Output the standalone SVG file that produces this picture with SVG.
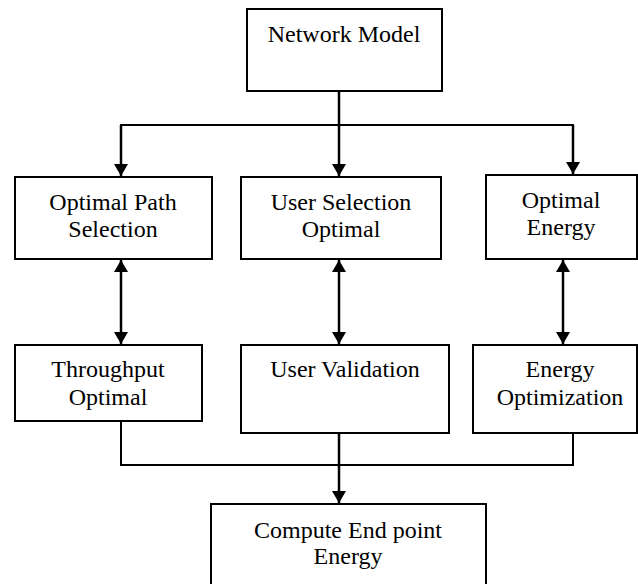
<svg xmlns="http://www.w3.org/2000/svg" width="638" height="584" viewBox="0 0 638 584">
<defs>
<style>
.box{fill:#fff;stroke:#000;stroke-width:2}
.t{font-family:"Liberation Serif","Times New Roman",serif;font-size:24px;fill:#000;text-anchor:middle}
.c{fill:none;stroke:#000;stroke-width:2.5}
.l{fill:none;stroke:#000;stroke-width:2}
</style>
<marker id="ah" viewBox="0 0 12 14" refX="12" refY="7" markerWidth="12" markerHeight="14" markerUnits="userSpaceOnUse" orient="auto-start-reverse">
<path d="M0,0 L12,7 L0,14 Z" fill="#000"/>
</marker>
</defs>
<rect width="638" height="584" fill="#fff"/>
<g id="connectors">
<line class="c" x1="339" y1="91" x2="339" y2="176" marker-end="url(#ah)"/>
<polyline class="l" points="121,162 121,125 573,125 573,162"/>
<line class="c" x1="121" y1="125" x2="121" y2="176" marker-end="url(#ah)"/>
<line class="c" x1="573" y1="125" x2="573" y2="174" marker-end="url(#ah)"/>
<line class="c" x1="121" y1="260" x2="121" y2="344" marker-start="url(#ah)" marker-end="url(#ah)"/>
<line class="c" x1="339" y1="260" x2="339" y2="344" marker-start="url(#ah)" marker-end="url(#ah)"/>
<line class="c" x1="563" y1="260" x2="563" y2="344" marker-start="url(#ah)" marker-end="url(#ah)"/>
<polyline class="l" points="121,421 121,465 573,465 573,433"/>
<line class="c" x1="339" y1="433" x2="339" y2="503" marker-end="url(#ah)"/>
</g>
<g id="network-model">
<rect class="box" x="247" y="9" width="195" height="82"/>
<text class="t" x="344" y="42">Network Model</text>
</g>
<g id="optimal-path-selection">
<rect class="box" x="15" y="177" width="197" height="82"/>
<text class="t" x="113" y="210">Optimal Path</text>
<text class="t" x="113" y="237">Selection</text>
</g>
<g id="user-selection-optimal">
<rect class="box" x="241" y="177" width="200" height="82"/>
<text class="t" x="341" y="210">User Selection</text>
<text class="t" x="341" y="237">Optimal</text>
</g>
<g id="optimal-energy">
<rect class="box" x="486" y="175" width="151" height="84"/>
<text class="t" x="561" y="208">Optimal</text>
<text class="t" x="561" y="235">Energy</text>
</g>
<g id="throughput-optimal">
<rect class="box" x="15" y="345" width="187" height="76"/>
<text class="t" x="108" y="377">Throughput</text>
<text class="t" x="108" y="405">Optimal</text>
</g>
<g id="user-validation">
<rect class="box" x="241" y="345" width="208" height="88"/>
<text class="t" x="345" y="377">User Validation</text>
</g>
<g id="energy-optimization">
<rect class="box" x="473" y="345" width="164" height="88"/>
<text class="t" x="560" y="377">Energy</text>
<text class="t" x="560" y="405">Optimization</text>
</g>
<g id="compute-end-point-energy">
<rect class="box" x="211" y="504" width="275" height="90"/>
<text class="t" x="348" y="538">Compute End point</text>
<text class="t" x="348" y="564">Energy</text>
</g>
</svg>
